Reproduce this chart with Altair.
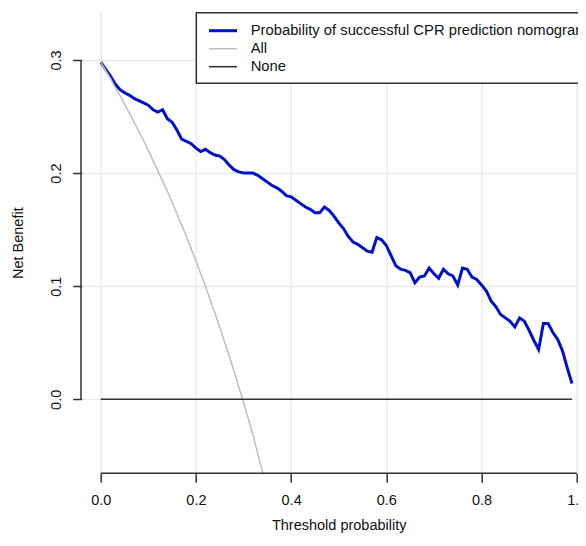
import altair as alt
import pandas as pd

# ---------------- data ----------------
threshold = [round(i * 0.01, 2) for i in range(100)]
nomogram_nb = [
    0.298, 0.292, 0.286, 0.279, 0.274, 0.271, 0.269, 0.266, 0.264, 0.262,
    0.260, 0.256, 0.254, 0.256, 0.248, 0.245, 0.238, 0.230, 0.228, 0.226,
    0.222, 0.219, 0.221, 0.218, 0.216, 0.215, 0.212, 0.207, 0.203, 0.201,
    0.200, 0.200, 0.200, 0.198, 0.195, 0.192, 0.189, 0.187, 0.184, 0.180,
    0.179, 0.176, 0.173, 0.170, 0.168, 0.165, 0.165, 0.170, 0.167, 0.162,
    0.156, 0.151, 0.144, 0.139, 0.137, 0.134, 0.131, 0.130, 0.143, 0.141,
    0.136, 0.127, 0.118, 0.115, 0.114, 0.112, 0.103, 0.108, 0.109, 0.116,
    0.111, 0.107, 0.115, 0.111, 0.109, 0.101, 0.116, 0.115, 0.108, 0.106,
    0.101, 0.096, 0.087, 0.082, 0.075, 0.072, 0.069, 0.064, 0.072, 0.069,
    0.061, 0.052, 0.044, 0.067, 0.067, 0.059, 0.053, 0.043, 0.028, 0.014,
]

all_threshold = [round(i * 0.01, 2) for i in range(36)]
all_nb = [
    0.298, 0.291, 0.284, 0.276, 0.269, 0.261, 0.253, 0.245, 0.237, 0.229,
    0.220, 0.211, 0.202, 0.193, 0.184, 0.174, 0.164, 0.154, 0.144, 0.133,
    0.1225, 0.111, 0.100, 0.088, 0.076, 0.064, 0.051, 0.038, 0.025, 0.011,
    -0.003, -0.017, -0.032, -0.048, -0.064, -0.080,
]

none_threshold = [0.0, 0.99]
none_nb = [0.0, 0.0]

legend_labels = ["Probability of successful CPR prediction nomogram", "All", "None"]
legend_colors = ["#0010cc", "#bebebe", "#333333"]

x_ticks = [0.0, 0.2, 0.4, 0.6, 0.8, 1.0]
y_ticks = [0.0, 0.1, 0.2, 0.3]

x_title = "Threshold probability"
y_title = "Net Benefit"

# ---------------- layout / style ----------------
W = 496.3
H = 461.3
FONT = "Liberation Sans"
FS = 14.5
DARK = "#333333"

xscale = alt.Scale(domain=[-0.04, 1.0027], nice=False, zero=False)
yscale = alt.Scale(domain=[-0.0654, 0.3424], nice=False, zero=False)

xaxis = alt.Axis(
    values=x_ticks, format=".1f", grid=True, gridColor="#ebebeb", gridWidth=1.5,
    domain=False, ticks=True, tickSize=9, tickColor=DARK, tickWidth=1.5,
    labelFont=FONT, labelFontSize=FS, labelColor="#111111", labelPadding=11,
    labelFlush=False, labelOverlap=False, labelBaseline="top",
    title=x_title, titleFont=FONT, titleFontSize=FS, titleFontWeight="normal",
    titleColor="#111111", titleX=257, titleY=52.5, titleBaseline="middle",
    titleAlign="center", titleAnchor="middle",
)
yaxis = alt.Axis(
    values=y_ticks, format=".1f", grid=True, gridColor="#ebebeb", gridWidth=1.5,
    domain=False, ticks=True, tickSize=9, tickColor=DARK, tickWidth=1.5,
    labelFont=FONT, labelFontSize=FS, labelColor="#111111", labelPadding=9,
    labelAngle=270, labelAlign="center", labelBaseline="bottom",
    labelFlush=False, labelOverlap=False,
    title=y_title, titleFont=FONT, titleFontSize=FS, titleFontWeight="normal",
    titleColor="#111111", titleX=-63.7, titleY=H / 2, titleBaseline="middle",
    titleAlign="center", titleAngle=270,
)

nom_df = pd.DataFrame({"t": threshold, "nb": nomogram_nb})
all_df = pd.DataFrame({"t": all_threshold, "nb": all_nb})
none_df = pd.DataFrame({"t": none_threshold, "nb": none_nb})

blue = alt.Chart(nom_df).mark_line(color=legend_colors[0], strokeWidth=3, clip=True).encode(
    x=alt.X("t:Q", scale=xscale, axis=xaxis),
    y=alt.Y("nb:Q", scale=yscale, axis=yaxis),
)
grey = alt.Chart(all_df).mark_line(color=legend_colors[1], strokeWidth=1.5, clip=True).encode(
    x=alt.X("t:Q", scale=xscale),
    y=alt.Y("nb:Q", scale=yscale),
)
none = alt.Chart(none_df).mark_line(color=legend_colors[2], strokeWidth=1.6, clip=True).encode(
    x=alt.X("t:Q", scale=xscale),
    y=alt.Y("nb:Q", scale=yscale),
)

# axis lines spanning the tick range only (R style)
xline_df = pd.DataFrame({"a": [x_ticks[0]], "b": [x_ticks[-1]]})
x_line = alt.Chart(xline_df).mark_rule(color=DARK, strokeWidth=1.5).encode(
    x=alt.X("a:Q", scale=xscale), x2="b:Q", y=alt.value(H)
)
yline_df = pd.DataFrame({"a": [y_ticks[0]], "b": [y_ticks[-1]]})
y_line = alt.Chart(yline_df).mark_rule(color=DARK, strokeWidth=1.5).encode(
    y=alt.Y("a:Q", scale=yscale), y2="b:Q", x=alt.value(-0.7)
)

# legend
leg_df = pd.DataFrame({
    "label": legend_labels,
    "color": legend_colors,
    "py": [18.7 + 18 * i for i in range(len(legend_labels))],
    "sw": [3, 1.5, 1.6],
})
leg_box = alt.Chart(pd.DataFrame({"k": [0]})).mark_rect(
    fill="white", stroke=DARK, strokeWidth=1.5
).encode(x=alt.value(114.6), x2=alt.value(540), y=alt.value(0.7), y2=alt.value(71.3))
leg_lines = alt.Chart(leg_df).mark_rule().encode(
    x=alt.value(127.3), x2=alt.value(155.3),
    y=alt.Y("py:Q", scale=None),
    color=alt.Color("color:N", scale=None),
    strokeWidth=alt.StrokeWidth("sw:Q", scale=None),
)
leg_text = alt.Chart(leg_df).mark_text(
    align="left", baseline="middle", font=FONT, fontSize=14.8, color="#111111"
).encode(x=alt.value(169), y=alt.Y("py:Q", scale=None), text="label:N")

chart = alt.layer(
    blue, grey, none, x_line, y_line, leg_box, leg_lines, leg_text
).properties(
    width=W, height=H,
    autosize=alt.AutoSizeParams(type="none"),
    padding={"left": 73.7, "top": 4, "right": 0, "bottom": 60},
    background="white",
).configure_view(stroke=None)

chart.save("out.html", embed_options={"renderer": "svg", "actions": False})
